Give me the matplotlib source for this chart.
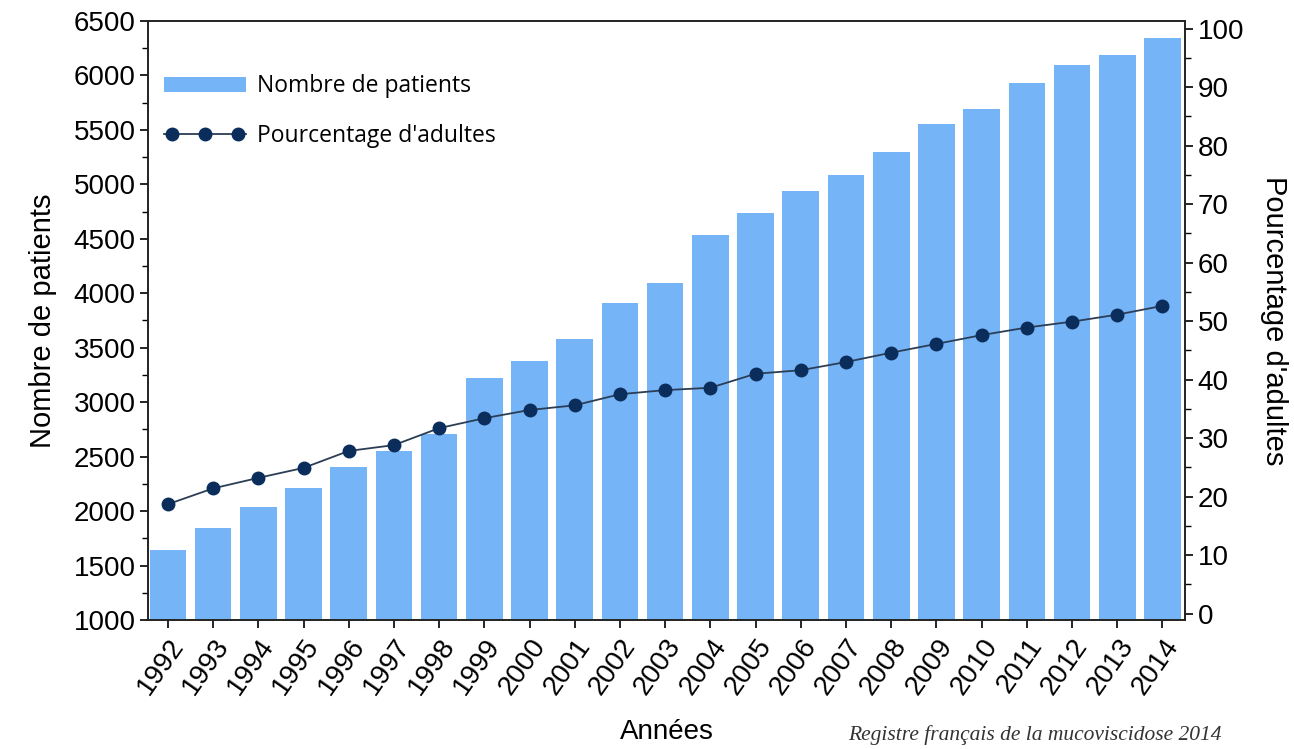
import matplotlib
matplotlib.use("Agg")
import matplotlib.pyplot as plt
from matplotlib.ticker import MultipleLocator
from matplotlib.lines import Line2D
from matplotlib.patches import Patch

years = [str(y) for y in range(1992, 2015)]
patients = [1640, 1848, 2037, 2210, 2409, 2555, 2708, 3220, 3380, 3580,
            3915, 4090, 4535, 4735, 4940, 5085, 5295, 5550, 5690, 5935,
            6095, 6185, 6340]
adultes = [18.7, 21.4, 23.2, 24.9, 27.8, 28.8, 31.7, 33.4, 34.8, 35.6,
           37.5, 38.2, 38.6, 41.0, 41.6, 43.0, 44.6, 46.1, 47.6, 48.9,
           49.9, 51.1, 52.6]

plt.rcParams['font.family'] = ['Liberation Sans', 'DejaVu Sans']

fig = plt.figure(figsize=(12.94, 7.49), dpi=100)
ax = fig.add_axes([0.1144, 0.1722, 0.8014, 0.7998])
x = list(range(len(years)))
bar_color = '#76B4F8'
ax.bar(x, patients, width=0.81, color=bar_color, zorder=1)
ax.set_ylim(1000, 6500)
ax.set_xlim(-0.44, 22.5)
ax.yaxis.set_major_locator(MultipleLocator(500))
ax.yaxis.set_minor_locator(MultipleLocator(250))
ax.set_xticks(x)
ax.set_xticklabels(years, rotation=55, ha='right', rotation_mode='anchor', fontsize=20)
ax.tick_params(axis='y', labelsize=20, direction='out', length=6, width=1.2, pad=3)
ax.tick_params(axis='y', which='minor', direction='out', length=4, width=1.0)
ax.tick_params(axis='x', direction='out', length=6, width=1.2, pad=4)
ax.set_ylabel('Nombre de patients', fontsize=21, labelpad=12)
ax.set_xlabel('Années', fontsize=20, labelpad=14)
for s in ax.spines.values():
    s.set_linewidth(1.2)
    s.set_color('#222222')

ax2 = ax.twinx()
line_color = '#0B2D5C'
ax2.plot(x, adultes, color='#2B3E55', lw=1.3, marker='o', markersize=9,
         markerfacecolor=line_color, markeredgecolor=line_color, zorder=3)
ax2.set_ylim(-1.1, 101.3)
ax2.yaxis.set_major_locator(MultipleLocator(10))
ax2.yaxis.set_minor_locator(MultipleLocator(5))
ax2.tick_params(axis='y', labelsize=20, direction='out', length=6, width=1.2, pad=3)
ax2.tick_params(axis='y', which='minor', direction='out', length=4, width=1.0)
ax2.set_ylabel("Pourcentage d'adultes", fontsize=21, rotation=270, labelpad=32)
for s in ax2.spines.values():
    s.set_linewidth(1.2)
    s.set_color('#222222')

handles = [Patch(facecolor=bar_color, edgecolor='none'),
           Line2D([0], [0], color='#2B3E55', lw=1.3, marker='o', markersize=9,
                  markerfacecolor=line_color, markeredgecolor=line_color)]
leg = ax.legend(handles, ['Nombre de patients', "Pourcentage d'adultes"],
                loc='upper left', bbox_to_anchor=(0.004, 0.93), frameon=False,
                prop={'family': ['Open Sans', 'DejaVu Sans'], 'size': 16.5},
                handlelength=3.6, handleheight=0.65, handletextpad=0.47,
                labelspacing=1.1, borderaxespad=0.3, borderpad=0.2)
for h in leg.legend_handles:
    if isinstance(h, Line2D):
        xd = h.get_xdata()
        x0, x1 = xd[0], xd[-1]
        w = x1 - x0
        h.set_xdata([x0, x0 + 0.1 * w, x0 + 0.5 * w, x1 - 0.1 * w, x1])
        h.set_ydata([h.get_ydata()[0]] * 5)
        h.set_markevery([1, 2, 3])

fig.text(0.944, 0.005, 'Registre français de la mucoviscidose 2014', ha='right', va='bottom',
         fontsize=15.5, style='italic', color='#333333',
         family=['Liberation Serif', 'DejaVu Serif'])

fig.savefig('out.png', dpi=100)
